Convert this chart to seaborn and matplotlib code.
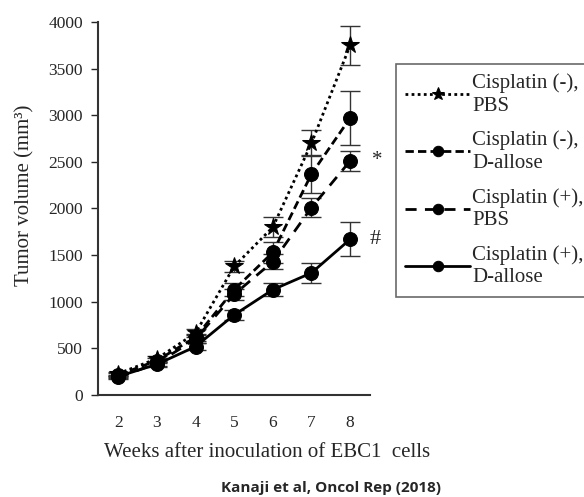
import numpy as np
import pandas as pd
import matplotlib
matplotlib.use("Agg")
import matplotlib.pyplot as plt
import seaborn as sns

# values (mean tumor volume, mm3, and error bar half-width)
weeks = [2, 3, 4, 5, 6, 7, 8]
labels = ["Cisplatin (-),\nPBS", "Cisplatin (-),\nD-allose",
          "Cisplatin (+),\nPBS", "Cisplatin (+),\nD-allose"]
pbs_neg = [230, 390, 665, 1380, 1800, 2700, 3750]
dallose_neg = [215, 370, 620, 1130, 1530, 2370, 2970]
pbs_pos = [190, 340, 600, 1080, 1430, 2010, 2510]
dallose_pos = [200, 330, 520, 860, 1130, 1310, 1670]
err_pbs_neg = [20, 30, 40, 60, 110, 140, 210]
err_dallose_neg = [20, 30, 40, 70, 110, 200, 290]
err_pbs_pos = [20, 30, 40, 60, 80, 100, 110]
err_dallose_pos = [20, 30, 40, 50, 70, 110, 180]

series = [pbs_neg, dallose_neg, pbs_pos, dallose_pos]
errors = [err_pbs_neg, err_dallose_neg, err_pbs_pos, err_dallose_pos]
markers = ["*", "o", "o", "o"]
msizes = [13, 10, 10, 10]
styles = [(0, (1, 1.2)), (0, (3, 1.5)), (0, (4, 3)), "-"]

sns.set_style("white")
serif = ["Liberation Serif", "DejaVu Serif"]
plt.rcParams["font.family"] = serif

fig = plt.figure(figsize=(5.84, 4.97), dpi=100)
ax = fig.add_axes([0.168, 0.205, 0.466, 0.751])

for vals, err, lab, mk, ms, ls in zip(series, errors, labels, markers, msizes, styles):
    df = pd.DataFrame({"week": weeks, "vol": vals})
    ax.errorbar(weeks, vals, yerr=err, fmt="none", ecolor="#333333",
                elinewidth=1.0, capsize=7, capthick=1.0, zorder=2)
    sns.lineplot(data=df, x="week", y="vol", ax=ax, color="black",
                 linestyle=ls, linewidth=2, marker=mk, markersize=ms,
                 markeredgecolor="black", label=lab, zorder=3)

ax.annotate("*", xy=(8, 2510), xytext=(16, 0), textcoords="offset points",
            fontsize=15, va="center", ha="left", family=serif)
ax.annotate("#", xy=(8, 1670), xytext=(14, 0), textcoords="offset points",
            fontsize=16, va="center", ha="left", family=serif)

ax.set_xlim(1.48, 8.52)
ax.set_ylim(0, 4000)
ax.set_xticks(weeks)
ax.set_yticks(np.arange(0, 4001, 500))
ax.tick_params(axis="both", labelsize=12.5, labelfontfamily="Liberation Serif")
ax.tick_params(axis="x", length=0, pad=14)
ax.tick_params(axis="y", length=5, width=1, direction="out", left=True, pad=6)
for s in ["top", "right"]:
    ax.spines[s].set_visible(False)
for s in ["left", "bottom"]:
    ax.spines[s].set_color("#333333")
    ax.spines[s].set_linewidth(1.5)

ax.set_xlabel("Weeks after inoculation of EBC1  cells", fontsize=15)
ax.xaxis.set_label_coords(0.62, -0.153)
ax.xaxis.label.set_va("center")
ax.set_ylabel("Tumor volume (mm³)", fontsize=15)
ax.yaxis.set_label_coords(-0.27, 0.536)
ax.yaxis.label.set_va("center")

leg = ax.legend(loc="upper left", bbox_to_anchor=(396 / 584, 1 - 64 / 497),
                bbox_transform=fig.transFigure, frameon=True,
                fontsize=15, handlelength=3.1, handletextpad=0.1,
                labelspacing=0.72, borderpad=0.45, borderaxespad=0,
                fancybox=False, edgecolor="#444444", markerscale=0.75)
leg.get_frame().set_linewidth(1.2)
for t in leg.get_texts():
    t.set_linespacing(1.25)

fig.text(0.567, 0.005, "Kanaji et al, Oncol Rep (2018)", fontsize=11,
         fontweight="bold", family="Open Sans", ha="center", va="bottom")

fig.savefig("out.png", dpi=100)
